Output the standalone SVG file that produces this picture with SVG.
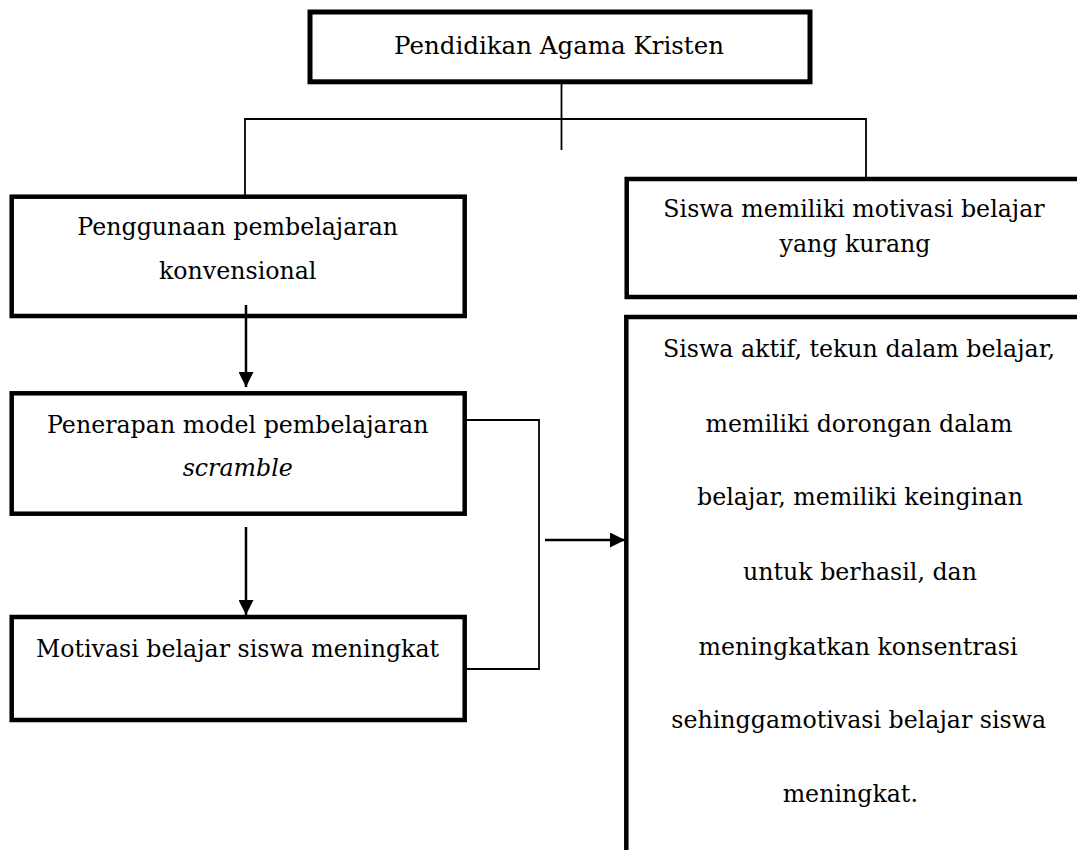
<svg xmlns="http://www.w3.org/2000/svg" width="1077" height="850" viewBox="0 0 1077 850">
  <style>
    .box { fill: #ffffff; stroke: #000000; stroke-width: 4.5; }
    .txt { font-family: "DejaVu Serif", "Liberation Serif", serif; font-size: 23.7px; fill: #000000; text-anchor: middle; }
    .it { font-style: italic; }
    .thin { fill: none; stroke: #000000; stroke-width: 1.8; }
    .arr { fill: none; stroke: #000000; stroke-width: 2.5; marker-end: url(#ah); }
  </style>
  <defs>
    <marker id="ah" markerUnits="userSpaceOnUse" markerWidth="15" markerHeight="15" viewBox="0 0 15 15" refX="15" refY="7.5" orient="auto">
      <path d="M0,0 L15,7.5 L0,15 Z" fill="#000000"/>
    </marker>
  </defs>
  <rect x="0" y="0" width="1077" height="850" fill="#ffffff"/>

  <g id="connectors">
    <path class="thin" d="M561.5,84 V150"/>
    <path class="thin" d="M245,195 V119 H866 V177"/>
    <path class="arr" d="M246,305 V387"/>
    <path class="arr" d="M246,527 V615"/>
    <path class="thin" d="M466.5,420 H539 V669 H466.5"/>
    <path class="arr" d="M545,540 H625"/>
  </g>

  <g id="node-top">
    <rect class="box" x="310" y="12" width="500" height="69.8" style="stroke-width:5"/>
    <text class="txt" x="559" y="53.5" style="font-size:24.5px">Pendidikan Agama Kristen</text>
  </g>

  <g id="node-penggunaan">
    <rect class="box" x="11.7" y="196.7" width="453" height="119.3"/>
    <text class="txt" x="237.7" y="235">Penggunaan pembelajaran</text>
    <text class="txt" x="237.7" y="279.3">konvensional</text>
  </g>
  <path d="M246,305 V316" stroke="#000" stroke-width="2.5"/>

  <g id="node-penerapan">
    <rect class="box" x="11.7" y="393.3" width="453" height="120.4"/>
    <text class="txt" x="237.7" y="433.3">Penerapan model pembelajaran</text>
    <text class="txt it" x="237.7" y="476">scramble</text>
  </g>

  <g id="node-motivasi">
    <rect class="box" x="11.7" y="617" width="453" height="103"/>
    <text class="txt" x="237.5" y="657.3">Motivasi belajar siswa meningkat</text>
  </g>

  <g id="node-kurang">
    <rect class="box" x="626.7" y="179" width="470" height="118"/>
    <text class="txt" x="854" y="217.3">Siswa memiliki motivasi belajar</text>
    <text class="txt" x="855" y="251.7">yang kurang</text>
  </g>

  <g id="node-aktif">
    <rect class="box" x="626.3" y="317" width="470" height="560"/>
    <text class="txt" x="859" y="357.3">Siswa aktif, tekun dalam belajar,</text>
    <text class="txt" x="859" y="431.7">memiliki dorongan dalam</text>
    <text class="txt" x="860" y="505">belajar, memiliki keinginan</text>
    <text class="txt" x="860" y="580">untuk berhasil, dan</text>
    <text class="txt" x="858" y="655">meningkatkan konsentrasi</text>
    <text class="txt" x="858.7" y="728.3">sehinggamotivasi belajar siswa</text>
    <text class="txt" x="850.3" y="801.7">meningkat.</text>
  </g>
</svg>
